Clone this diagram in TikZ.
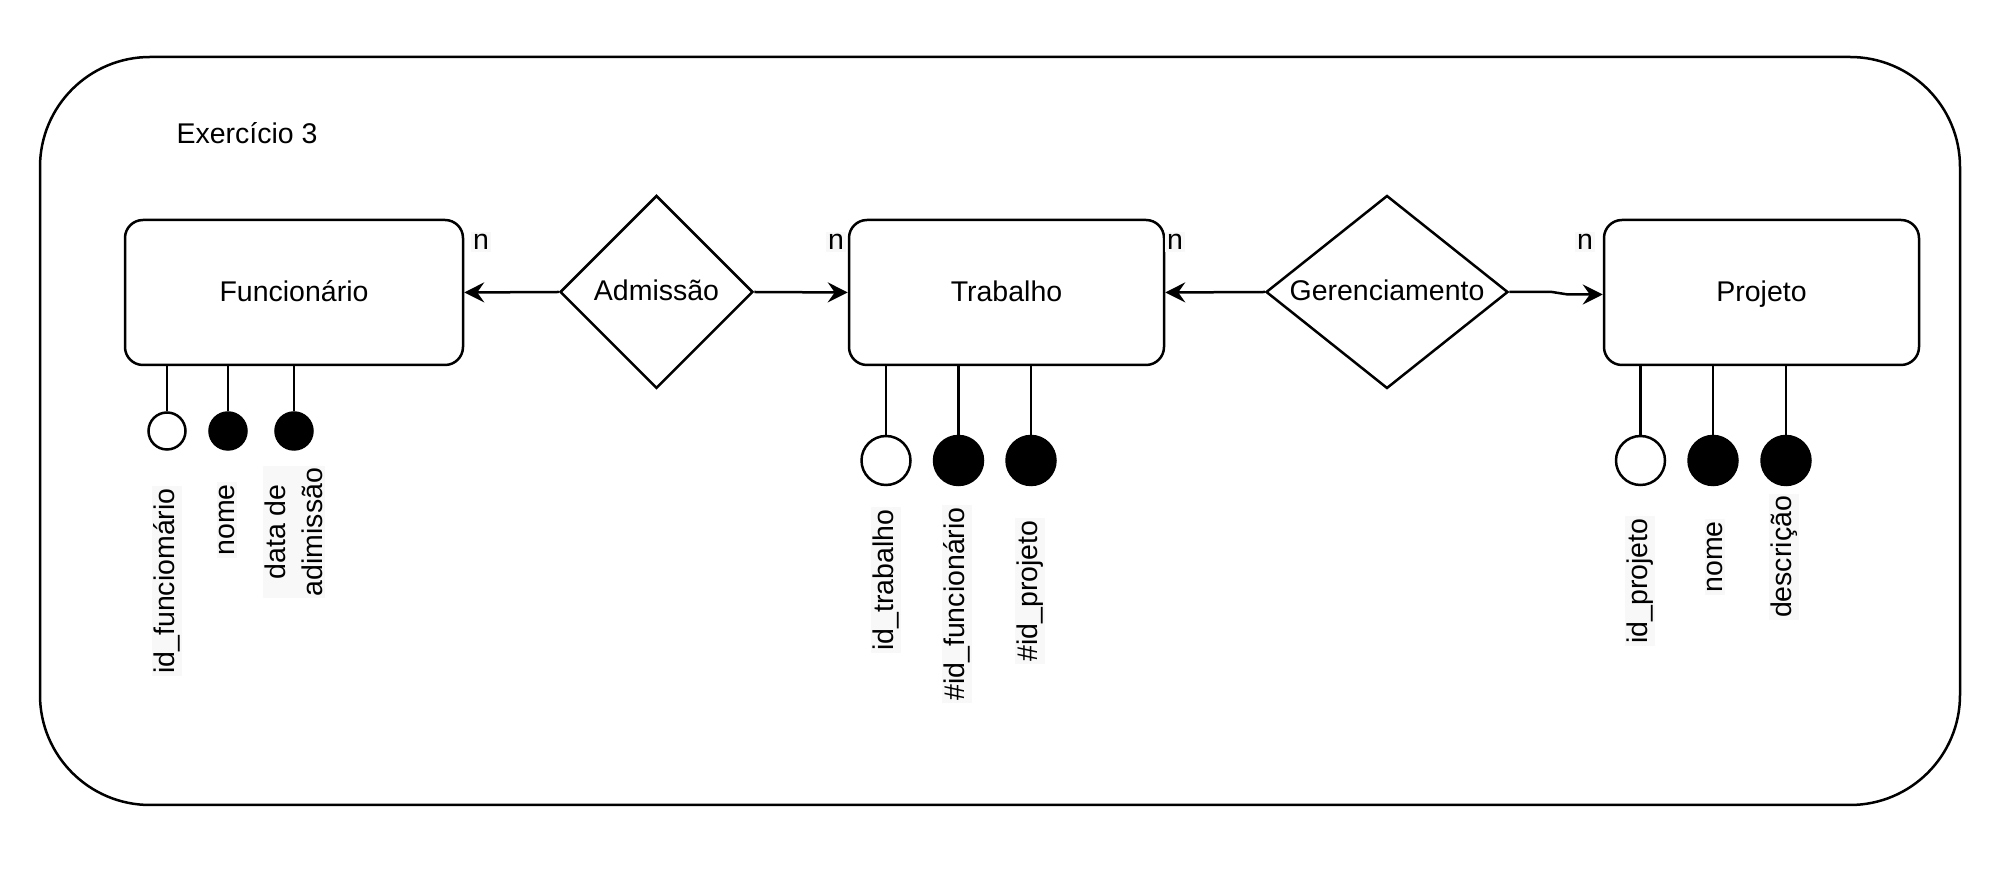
\documentclass[tikz,border=0pt]{standalone}
\usepackage{fontspec}
\setmainfont{Liberation Sans}
\usetikzlibrary{shapes.geometric,arrows.meta}
\definecolor{labelbg}{RGB}{248,248,248}
\tikzset{
  base/.style={line width=1.25pt},
  entity/.style={base, draw, rounded corners=9pt, minimum height=72.5pt, inner sep=0pt, font=\fontsize{14.25pt}{17pt}\selectfont, text height=0.88em, text depth=0pt},
  relation/.style={base, draw, diamond, inner sep=0pt, minimum height=96.5pt},
  txt/.style={font=\fontsize{14.25pt}{18.5pt}\selectfont, inner sep=1pt},
  reltxt/.style={txt, text height=0.88em, text depth=0pt},
  attrlabel/.style={txt, rotate=90, fill=labelbg, align=center},
  card/.style={txt, fill=labelbg},
  arr/.style={base, -{Stealth[length=10pt, width=10pt, inset=3.5pt]}},
  keyattr/.style={base, draw, circle, fill=white, inner sep=0pt},
  plainattr/.style={base, draw, circle, fill=black, inner sep=0pt},
  link/.style={base}
}
\begin{document}
\begin{tikzpicture}[x=0.5pt,y=-0.5pt]
\useasboundingbox (0,0) rectangle (1999,870);
\node[base, draw, rounded corners=55pt, minimum width=960pt, minimum height=374pt] (frame) at (1000,431) {};
\node[txt] (title) at (247,133) {Exercício 3};

% entities
\node[entity, minimum width=169pt] (fu) at (294,292.5) {Funcionário};
\node[entity, minimum width=157.5pt] (tr) at (1006.5,292.5) {Trabalho};
\node[entity, minimum width=157.5pt] (pr) at (1761.5,292.5) {Projeto};

% relations
\node[relation, minimum width=96.5pt] (ad) at (656.5,292) {};
\node[reltxt] (adt) at (ad) {Admissão};
\node[relation, minimum width=121pt] (gd) at (1387,292) {};
\node[reltxt] (gdt) at (gd) {Gerenciamento};

% connectors
\draw[arr] (ad.west) -- (fu.east);
\draw[arr] (ad.east) -- (tr.west);
\draw[arr] (gd.west) -- (tr.east);
\coordinate (k1) at (1552,292);
\coordinate (k2) at (1568,294.5);
\draw[arr] (gd.east) -- (k1) -- (k2) -- (k2 -| pr.west);

% cardinalities
\node[card] (n1) at (481,242) {n};
\node[card] (n2) at (836,242) {n};
\node[card] (n3) at (1175,242) {n};
\node[card] (n4) at (1585,242) {n};

% Funcionario attributes
\node[keyattr, minimum size=18.5pt] (f1) at (167,431) {};
\node[plainattr, minimum size=18.5pt] (f2) at (228,431) {};
\node[plainattr, minimum size=18.5pt] (f3) at (294,431) {};
\draw[link] (f1.north) -- (f1.north |- fu.south);
\draw[link] (f2.north) -- (f2.north |- fu.south);
\draw[link] (f3.north) -- (f3.north |- fu.south);
\node[attrlabel] (lf1) at (167,581) {id\_funciomário};
\node[attrlabel] (lf2) at (227,520) {nome};
\node[attrlabel] (lf3) at (294,532) {data de\\adimissão};

% Trabalho attributes
\node[keyattr, minimum size=24.5pt] (t1) at (886,460.5) {};
\node[plainattr, minimum size=24.5pt] (t2) at (958.5,460.5) {};
\node[plainattr, minimum size=24.5pt] (t3) at (1031,460.5) {};
\draw[link] (t1.north) -- (t1.north |- tr.south);
\draw[link] (t2.north) -- (t2.north |- tr.south);
\draw[link] (t3.north) -- (t3.north |- tr.south);
\node[attrlabel] (lt1) at (886,580) {id\_trabalho};
\node[attrlabel] (lt2) at (957,604) {\#id\_funcionário};
\node[attrlabel] (lt3) at (1030,591) {\#id\_projeto};

% Projeto attributes
\node[keyattr, minimum size=24.5pt] (p1) at (1640.5,460.5) {};
\node[plainattr, minimum size=24.5pt] (p2) at (1713,460.5) {};
\node[plainattr, minimum size=24.5pt] (p3) at (1786,460.5) {};
\draw[link] (p1.north) -- (p1.north |- pr.south);
\draw[link] (p2.north) -- (p2.north |- pr.south);
\draw[link] (p3.north) -- (p3.north |- pr.south);
\node[attrlabel] (lp1) at (1640,581) {id\_projeto};
\node[attrlabel] (lp2) at (1715,557) {nome};
\node[attrlabel] (lp3) at (1784,557) {descrição};
\end{tikzpicture}
\end{document}
